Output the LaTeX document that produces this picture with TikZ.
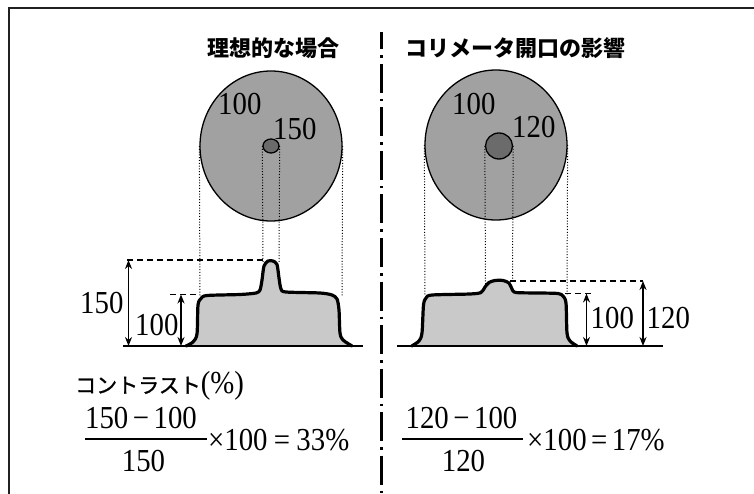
\documentclass[tikz,border=0pt]{standalone}
\usepackage{fontspec}
\setmainfont{Liberation Serif}
\newfontfamily\cjk{Noto Sans CJK JP}
\newfontfamily\cjkmid[FakeBold=1.2]{Noto Sans CJK JP}
\usetikzlibrary{arrows.meta,shapes.geometric}
\definecolor{discgray}{gray}{0.63}
\definecolor{spotgray}{gray}{0.42}
\definecolor{profgray}{gray}{0.79}
\definecolor{framegray}{gray}{0.13}
\newcommand{\nar}[1]{\scalebox{0.9}[1]{#1}}
\tikzset{
  num/.style={font=\fontsize{32}{32}\selectfont, inner sep=0pt},
  eqn/.style={font=\fontsize{32}{32}\selectfont, inner sep=0pt},
  heading/.style={font=\cjk\bfseries\fontsize{22}{24}\selectfont, inner sep=0pt},
  disc/.style={ellipse, draw, line width=1.3pt, fill=discgray, inner sep=0pt},
  spot/.style={ellipse, draw, line width=1.3pt, fill=spotgray, inner sep=0pt},
  proj/.style={line width=1pt, dash pattern=on 1pt off 1.8pt},
  level/.style={line width=1.5pt, dash pattern=on 6pt off 4pt},
  dim/.style={line width=1.5pt, {Stealth[length=9pt,width=7pt]}-{Stealth[length=9pt,width=7pt]}},
  curve/.style={line width=3.2pt, line join=round, line cap=round},
  baseln/.style={line width=2pt},
  divider/.style={line width=2.5pt, dash pattern=on 29pt off 6pt on 2.5pt off 6pt, dash phase=11.5pt},
  fracbar/.style={line width=2pt}
}
\begin{document}
\begin{tikzpicture}[x=1pt,y=-1pt]
\useasboundingbox (0,0) rectangle (754,494);
% frame
\coordinate (frBL) at (9,494);
\coordinate (frTL) at (9,8.5);
\coordinate (frTR) at (754,8.5);
\draw[line width=2pt, framegray] (frBL) -- (frTL) -- (frTR);
% divider
\coordinate (divtop) at (381.5,32);
\coordinate (divbot) at (381.5,494);
\draw[divider] (divtop) -- (divbot);
% headings
\node[heading] (headL) at (273.5,48) {理想的な場合};
\node[heading] (headR) at (515,48) {コリメータ開口の影響};

% ===== left side =====
\node[disc, minimum width=142pt, minimum height=150pt] (ellL) at (271,146) {};
\node[spot, minimum width=16pt, minimum height=14pt] (spotL) at (271,146) {};
\node[num, anchor=base west] (labL100) at (218,115) {\nar{100}};
\node[num, anchor=base west] (labL150) at (273,140) {\nar{150}};

% profile left
\fill[profgray] plot[smooth, tension=0.45] coordinates {(186,346) (193,342) (197,334) (198,305) (201,298.5) (207,295.5) (240,294.5) (256,293) (260,290) (262,280) (264,266) (268,261) (273,261) (277,264.5) (279,278) (281,289) (286,292) (320,293) (332,295) (337,299) (339,310) (340,333) (343,340) (352,346)} -- cycle;
\draw[curve] plot[smooth, tension=0.45] coordinates {(186,346) (193,342) (197,334) (198,305) (201,298.5) (207,295.5) (240,294.5) (256,293) (260,290) (262,280) (264,266) (268,261) (273,261) (277,264.5) (279,278) (281,289) (286,292) (320,293) (332,295) (337,299) (339,310) (340,333) (343,340) (352,346)};
\coordinate (baseL1) at (123,346);
\coordinate (baseL2) at (363,346);
\draw[baseln] (baseL1) -- (baseL2);

% projections left
\coordinate (pL1) at (200,296);
\coordinate (pL2) at (263,262);
\coordinate (pL3) at (279,262);
\coordinate (pL4) at (342,296);
\draw[proj] (ellL.west) -- (pL1);
\draw[proj] (spotL.west) -- (pL2);
\draw[proj] (spotL.east) -- (pL3);
\draw[proj] (ellL.east) -- (pL4);

% levels left
\coordinate (lvL150a) at (127,260);
\coordinate (lvL150b) at (264,260);
\coordinate (lvL100a) at (170,294.5);
\coordinate (lvL100b) at (199,294.5);
\draw[level] (lvL150a) -- (lvL150b);
\draw[level] (lvL100a) -- (lvL100b);
\coordinate (arL150t) at (128.5,260);
\coordinate (arL150b) at (128.5,346);
\coordinate (arL100t) at (181,294.5);
\coordinate (arL100b) at (181,346);
\draw[dim] (arL150t) -- (arL150b);
\draw[dim] (arL100t) -- (arL100b);
\node[num, anchor=base west] (dimL150) at (80,313) {\nar{150}};
\node[num, anchor=base west] (dimL100) at (135,335) {\nar{100}};

% ===== right side =====
\node[disc, minimum width=142pt, minimum height=150pt] (ellR) at (496,145) {};
\node[spot, minimum width=27pt, minimum height=26pt] (spotR) at (499,146) {};
\node[num, anchor=base west] (labR100) at (452,115) {\nar{100}};
\node[num, anchor=base west] (labR120) at (512,138) {\nar{120}};

\fill[profgray] plot[smooth, tension=0.45] coordinates {(411.7,346) (419,341) (422,333) (423.5,305) (426,298) (432,295) (470,294) (481,292.5) (485,287) (489,282.5) (495,280.5) (503,280.5) (509,283) (512,289) (516,292.5) (540,293) (558,293.5) (563,296) (566,303) (567,333) (570,341) (577,346)} -- cycle;
\draw[curve] plot[smooth, tension=0.45] coordinates {(411.7,346) (419,341) (422,333) (423.5,305) (426,298) (432,295) (470,294) (481,292.5) (485,287) (489,282.5) (495,280.5) (503,280.5) (509,283) (512,289) (516,292.5) (540,293) (558,293.5) (563,296) (566,303) (567,333) (570,341) (577,346)};
\coordinate (baseR1) at (397,346);
\coordinate (baseR2) at (663,346);
\draw[baseln] (baseR1) -- (baseR2);

\coordinate (pR1) at (425,296);
\coordinate (pR2) at (485.5,284);
\coordinate (pR3) at (512.5,281);
\coordinate (pR4) at (567,296);
\draw[proj] (ellR.west) -- (pR1);
\draw[proj] (spotR.west) -- (pR2);
\draw[proj] (spotR.east) -- (pR3);
\draw[proj] (ellR.east) -- (pR4);

\coordinate (lvR120a) at (510,281);
\coordinate (lvR120b) at (643,281);
\coordinate (lvR100a) at (565,293.5);
\coordinate (lvR100b) at (594,293.5);
\draw[level] (lvR120a) -- (lvR120b);
\draw[level] (lvR100a) -- (lvR100b);
\coordinate (arR120t) at (643,281);
\coordinate (arR120b) at (643,346);
\coordinate (arR100t) at (586.5,293.5);
\coordinate (arR100b) at (586.5,346);
\draw[dim] (arR120t) -- (arR120b);
\draw[dim] (arR100t) -- (arR100b);
\node[num, anchor=base west] (dimR100) at (590.5,328) {\nar{100}};
\node[num, anchor=base west] (dimR120) at (646.5,328) {\nar{120}};

% ===== contrast formulas =====
\node[inner sep=0pt, anchor=base west] (contrast) at (75,393) {{\cjkmid\fontsize{21}{22}\selectfont コントラスト}{\fontsize{32}{32}\selectfont\nar{(\%)}}};

\node[eqn, anchor=base] (numL) at (141,428.3) {\nar{150\hspace{5pt}−\hspace{5pt}100}};
\coordinate (barL1) at (85,439);
\coordinate (barL2) at (207,439);
\draw[fracbar] (barL1) -- (barL2);
\node[eqn, anchor=base] (denL) at (143.5,471.7) {\nar{150}};
\node[eqn, anchor=base west] (resL) at (208,450) {\nar{×100\hspace{7pt}=\hspace{7pt}33\%}};

\node[eqn, anchor=base] (numR) at (461.5,428.3) {\nar{120\hspace{5pt}−\hspace{5pt}100}};
\coordinate (barR1) at (402,439);
\coordinate (barR2) at (523,439);
\draw[fracbar] (barR1) -- (barR2);
\node[eqn, anchor=base] (denR) at (463.5,471.7) {\nar{120}};
\node[eqn, anchor=base west] (resR) at (527,450) {\nar{×100\hspace{5pt}=\hspace{5pt}17\%}};
\end{tikzpicture}
\end{document}
